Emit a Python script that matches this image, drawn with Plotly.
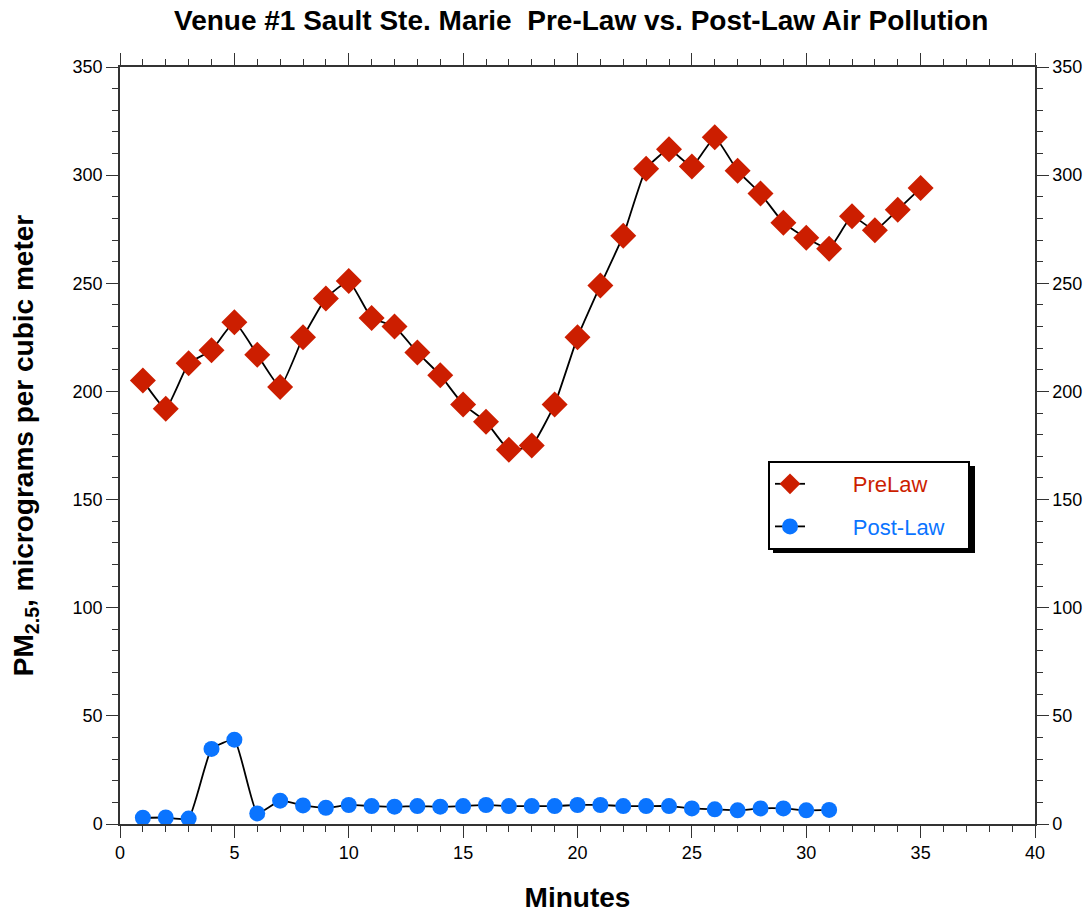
import plotly.graph_objects as go

minutes_pre = list(range(1, 36))
pre_law = [205, 192, 213, 219, 232, 217, 202, 225, 243, 251,
           234, 230, 218, 207.5, 194, 186, 173, 175, 194, 225,
           249, 272, 303, 312, 304, 317.5, 302, 291.5, 278, 271,
           266, 281, 274.5, 284, 294]

minutes_post = list(range(1, 32))
post_law = [2.9, 3.0, 2.5, 34.7, 39.0, 4.9, 10.8, 8.6, 7.5, 8.8,
            8.3, 8.0, 8.3, 8.0, 8.3, 8.8, 8.3, 8.3, 8.3, 8.8,
            8.8, 8.3, 8.3, 8.3, 7.2, 6.8, 6.3, 7.2, 7.2, 6.3, 6.5]

RED = "#CC1E00"
BLUE = "#0A74FF"
FONT = "Liberation Sans"
SP = "&nbsp;"

fig = go.Figure()
fig.add_trace(go.Scatter(
    x=minutes_pre, y=pre_law, mode="lines+markers",
    name=f"{SP*7}<span style='color:{RED}'>PreLaw</span>",
    legendgroup="pre",
    line=dict(color="black", width=1.8, shape="spline", smoothing=0.4),
    marker=dict(symbol="diamond", size=20, color=RED),
))
fig.add_trace(go.Scatter(
    x=minutes_post, y=post_law, mode="lines+markers",
    name=f"{SP*7}<span style='color:{BLUE}'>Post-Law</span>{SP*3}",
    legendgroup="post",
    line=dict(color="black", width=1.8, shape="spline", smoothing=0.4),
    marker=dict(symbol="circle", size=16, color=BLUE),
))
# helper trace for the mirrored top/right axes
fig.add_trace(go.Scatter(x=[None], y=[None], xaxis="x2", yaxis="y2",
                         showlegend=False, hoverinfo="skip"))

axis_common = dict(
    showgrid=False, zeroline=False, showline=True, linecolor="#333333",
    linewidth=1.5, ticks="outside", ticklen=12, tickwidth=1.2,
    tickcolor="#333333", tickfont=dict(family=FONT, size=18, color="black"),
    automargin=False,
)
minor_x = dict(dtick=1, ticks="outside", ticklen=6, tickcolor="#333333")
minor_y = dict(dtick=10, ticks="outside", ticklen=6, tickcolor="#333333")


def px(xp):  # page pixel -> paper fraction (x)
    return (xp - 120) / 915


def py(yp):  # page pixel -> paper fraction (y)
    return (824 - yp) / 757


fig.update_layout(
    width=1091, height=911,
    margin=dict(l=112, r=64, t=59, b=95, autoexpand=False),
    paper_bgcolor="white", plot_bgcolor="white",
    title=dict(text="<b>Venue #1 Sault Ste. Marie  Pre-Law vs. Post-Law Air Pollution</b>",
               x=0.504, xanchor="center", xref="paper", yref="container",
               y=0.987, yanchor="middle", automargin=False,
               font=dict(family=FONT, size=28, color="black")),
    xaxis=dict(range=[0, 40], dtick=5, tick0=0, minor=minor_x,
               title=dict(text="<b>Minutes</b>", font=dict(family=FONT, size=28, color="black"),
                          standoff=25),
               **axis_common),
    yaxis=dict(range=[0, 350], dtick=50, tick0=0, minor=minor_y,
               title=dict(text="<b>PM<sub>2.5</sub>, micrograms per cubic meter</b>",
                          font=dict(family=FONT, size=28, color="black"), standoff=38),
               **axis_common),
    xaxis2=dict(range=[0, 40], dtick=5, tick0=0, overlaying="x", side="top",
                anchor="y2", showticklabels=False, minor=minor_x, **axis_common),
    yaxis2=dict(range=[0, 350], dtick=50, tick0=0, overlaying="y", side="right",
                anchor="x2", minor=minor_y, **axis_common),
    legend=dict(x=px(768), y=py(461), xanchor="left", yanchor="top",
                bgcolor="white", bordercolor="black", borderwidth=2,
                font=dict(family=FONT, size=22), tracegroupgap=11),
    shapes=[dict(type="rect", xref="paper", yref="paper",
                 x0=px(773), x1=px(975), y0=py(553), y1=py(466),
                 fillcolor="black", line=dict(width=0), layer="above")],
    showlegend=True,
)

fig.write_html("out.html")
